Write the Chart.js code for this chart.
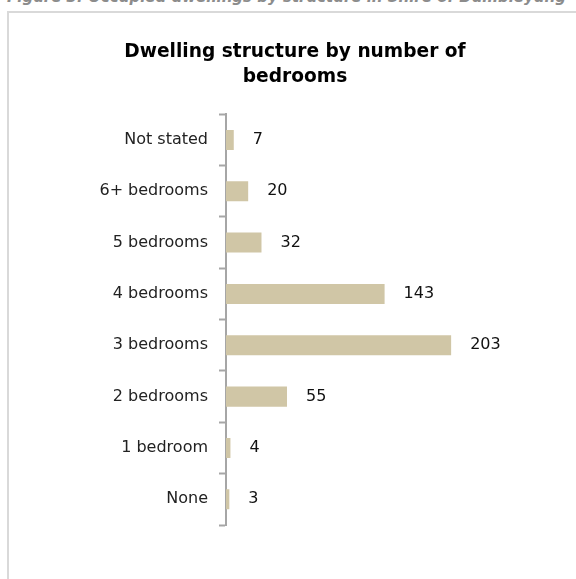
<!DOCTYPE html>
<html>
<head>
<meta charset="utf-8">
<script src="https://cdn.jsdelivr.net/npm/chart.js@4.4.1/dist/chart.umd.min.js"></script>
<style>
  html, body { margin: 0; padding: 0; background: #fff; overflow: hidden; }
  body { width: 576px; height: 579px; position: relative; }
  .caption {
    position: absolute; left: 7px; top: -10px; white-space: nowrap;
    font: italic bold 15px "DejaVu Sans", sans-serif; color: #8c8c8c; line-height: 1;
  }
  .frame {
    position: absolute; left: 7px; top: 11px; width: 620px; height: 620px;
    border: 2px solid #d9d9d9; box-sizing: border-box;
  }
  #wrap { position: absolute; left: 8px; top: 12px; width: 574px; height: 567px; }
</style>
</head>
<body>
<div class="caption">Figure 3: Occupied dwellings by structure in Shire of Dumbleyung</div>
<div class="frame"></div>
<div id="wrap"><canvas id="bedroomChart"></canvas></div>
<script>
document.addEventListener("DOMContentLoaded", function () {
  const categories = ["Not stated", "6+ bedrooms", "5 bedrooms", "4 bedrooms", "3 bedrooms", "2 bedrooms", "1 bedroom", "None"];
  const dwellings = [7, 20, 32, 143, 203, 55, 4, 3];
  const titleLines = ["Dwelling structure by number of", "bedrooms"];

  const barColour = "#d0c6a6";
  const axisColour = "#a6a6a6";
  const font = "'DejaVu Sans', sans-serif";

  ////////////////////////////////
  // Value labels at the end of each bar
  ////////////////////////////////
  const valueLabels = {
    id: "valueLabels",
    afterDatasetsDraw(chart) {
      const ctx = chart.ctx;
      const meta = chart.getDatasetMeta(0);
      ctx.save();
      ctx.font = "16px " + font;
      ctx.fillStyle = "#111";
      ctx.textAlign = "left";
      ctx.textBaseline = "middle";
      meta.data.forEach(function (bar, i) {
        ctx.fillText(String(dwellings[i]), bar.x + 19, bar.y);
      });
      ctx.restore();
    }
  };

  new Chart(document.getElementById("bedroomChart"), {
    type: "bar",
    data: {
      labels: categories,
      datasets: [
        {
          data: dwellings,
          backgroundColor: barColour,
          borderWidth: 0,
          categoryPercentage: 1,
          barPercentage: 0.39,
        },
      ],
    },
    options: {
      indexAxis: "y",
      responsive: true,
      maintainAspectRatio: false,
      animation: false,
      layout: {
        padding: { top: 0, right: 0, bottom: 54, left: 0 },
      },
      scales: {
        x: {
          display: false,
          min: 0,
          max: 321,
        },
        y: {
          afterFit: function (scale) { scale.width = 218; },
          border: { display: true, color: axisColour, width: 2 },
          grid: {
            offset: true,
            drawOnChartArea: false,
            drawTicks: true,
            tickLength: 7,
            tickWidth: 2,
            color: axisColour,
          },
          ticks: {
            color: "#222",
            padding: 11,
            font: { size: 16, family: font },
          },
        },
      },
      plugins: {
        legend: { display: false },
        tooltip: { enabled: false },
        title: {
          display: true,
          text: titleLines,
          color: "#000",
          font: { size: 18.6, weight: "bold", family: font, lineHeight: 1.35 },
          padding: { top: 28, bottom: 24 },
        },
      },
    },
    plugins: [valueLabels],
  });
});
</script>
</body>
</html>
